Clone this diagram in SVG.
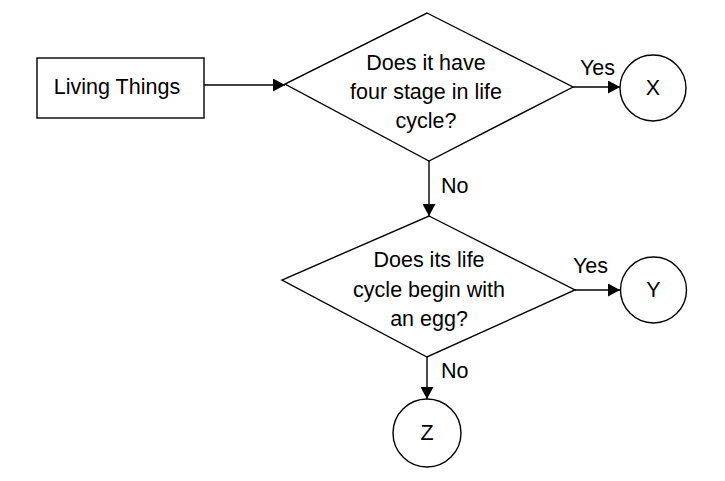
<svg xmlns="http://www.w3.org/2000/svg" width="725" height="481" viewBox="0 0 725 481">
  <defs>
    <marker id="arrow" viewBox="0 0 12 13" refX="12" refY="6.5" markerWidth="12" markerHeight="13" markerUnits="userSpaceOnUse" orient="auto">
      <path d="M0,0 L12,6.5 L0,13 Z" fill="#000"/>
    </marker>
  </defs>
  <style>
    .shape { fill: #fff; stroke: #000; stroke-width: 1.4; }
    .edge { fill: none; stroke: #000; stroke-width: 1.4; marker-end: url(#arrow); }
    text { font-family: "Liberation Sans", Arial, sans-serif; font-size: 21.5px; fill: #000; text-anchor: middle; }
    .lbl { text-anchor: start; }
  </style>
  <rect width="725" height="481" fill="#fff"/>
  <g id="connectors">
    <line class="edge" x1="204" y1="85" x2="285" y2="85"/>
    <line class="edge" x1="573" y1="87" x2="620" y2="87"/>
    <line class="edge" x1="429" y1="161" x2="429" y2="216"/>
    <line class="edge" x1="575" y1="290" x2="620" y2="290"/>
    <line class="edge" x1="427" y1="357" x2="427" y2="399"/>
    <text class="lbl" x="580" y="75">Yes</text>
    <text class="lbl" x="441" y="193">No</text>
    <text class="lbl" x="573" y="273">Yes</text>
    <text class="lbl" x="441" y="378">No</text>
  </g>
  <g id="living-things">
    <rect class="shape" x="37" y="58" width="167" height="60"/>
    <text x="117" y="94">Living Things</text>
  </g>
  <g id="decision-1">
    <polygon class="shape" points="427,13 573,87 429,161 285,84"/>
    <text x="426" y="70">Does it have</text>
    <text x="426" y="99">four stage in life</text>
    <text x="426" y="128">cycle?</text>
  </g>
  <g id="decision-2">
    <polygon class="shape" points="429,216 575,290 427,357 282,280"/>
    <text x="429" y="267">Does its life</text>
    <text x="429" y="297">cycle begin with</text>
    <text x="429" y="326">an egg?</text>
  </g>
  <g id="node-x">
    <circle class="shape" cx="653" cy="88" r="33"/>
    <text x="653" y="95">X</text>
  </g>
  <g id="node-y">
    <circle class="shape" cx="653.5" cy="290" r="33"/>
    <text x="653.5" y="297">Y</text>
  </g>
  <g id="node-z">
    <circle class="shape" cx="427" cy="433" r="34"/>
    <text x="427" y="440">Z</text>
  </g>
</svg>
